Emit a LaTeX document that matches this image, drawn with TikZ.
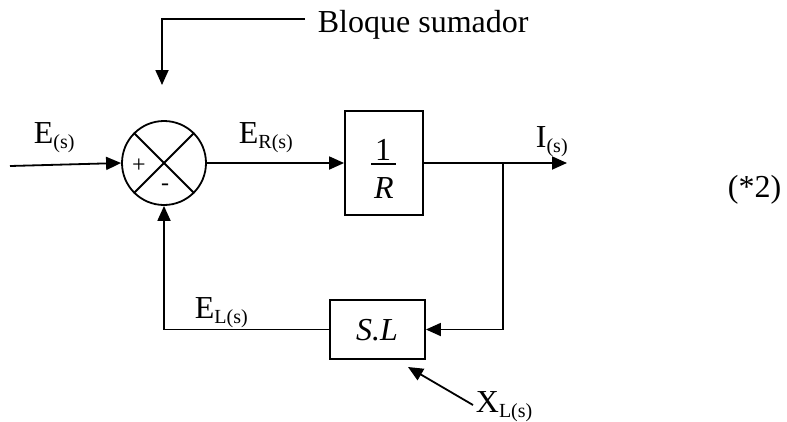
\documentclass[tikz,border=0pt]{standalone}
\usepackage{fontspec}
\setmainfont{Liberation Serif}
\usetikzlibrary{arrows.meta}
\newcommand{\sbs}[1]{\raisebox{-5pt}{\fontsize{20}{20}\selectfont #1}}
\begin{document}
\begin{tikzpicture}[x=1pt,y=-1pt, line width=1.8pt,
  arr/.style={-{Triangle[length=15pt,width=13pt]}},
  lbl/.style={anchor=base west, inner sep=0pt, font=\fontsize{32}{36}\selectfont},
  inbox/.style={anchor=base, inner sep=0pt, font=\fontsize{32}{36}\selectfont},
  sgn/.style={inner sep=0pt, font=\fontsize{24}{26}\selectfont},
  blk/.style={draw, rectangle, inner sep=0pt}]
\useasboundingbox (0,0) rectangle (787,421);
% summing junction
\node[circle, draw, minimum size=84pt, inner sep=0pt] (sum) at (164,163) {};
\draw (sum.45) -- (sum.225);
\draw (sum.135) -- (sum.315);
\node[sgn] (plus) at (139,166) {+};
\node[sgn] (minus) at (165,187) {-};
% blocks
\node[blk, minimum width=78pt, minimum height=104pt] (R) at (384,163) {};
\node[inbox] (one) at (383,160) {1};
\node[inbox] (rr) at (384,198) {\textit{R}};
\coordinate (fb1) at (371,164);
\coordinate (fb2) at (396,164);
\draw (fb1) -- (fb2);
\node[blk, minimum width=95pt, minimum height=59pt] (SL) at (377.5,329.5) {};
\node[inbox] (sltext) at (377,340) {\textit{S.L}};
% connectors
\coordinate (in) at (10,166);
\draw[arr] (in) -- (sum.west);
\draw[arr] (sum.east) -- (R.west);
\coordinate (br) at (503,163);
\coordinate (out) at (567,163);
\draw[arr] (R.east) -- (out);
\draw[arr] (br) |- (SL.east);
\draw[arr] (SL.west) -| (sum.south);
\coordinate (xs) at (473,405);
\coordinate (xe) at (408,367);
\draw[arr] (xs) -- (xe);
\coordinate (b1) at (305,19);
\coordinate (b2) at (162,85);
\draw[arr] (b1) -| (b2);
% labels
\node[lbl] (les) at (33,143) {E\sbs{(s)}};
\node[lbl] (ler) at (238,143) {E\sbs{R(s)}};
\node[lbl] (lis) at (535,147) {I\sbs{(s)}};
\node[lbl] (lel) at (194,318) {E\sbs{L(s)}};
\node[lbl] (lxl) at (475,412) {X\sbs{L(s)}};
\node[lbl] (lbs) at (317,32) {Bloque sumador};
\node[lbl] (ref) at (727,197) {(*2)};
\end{tikzpicture}
\end{document}
